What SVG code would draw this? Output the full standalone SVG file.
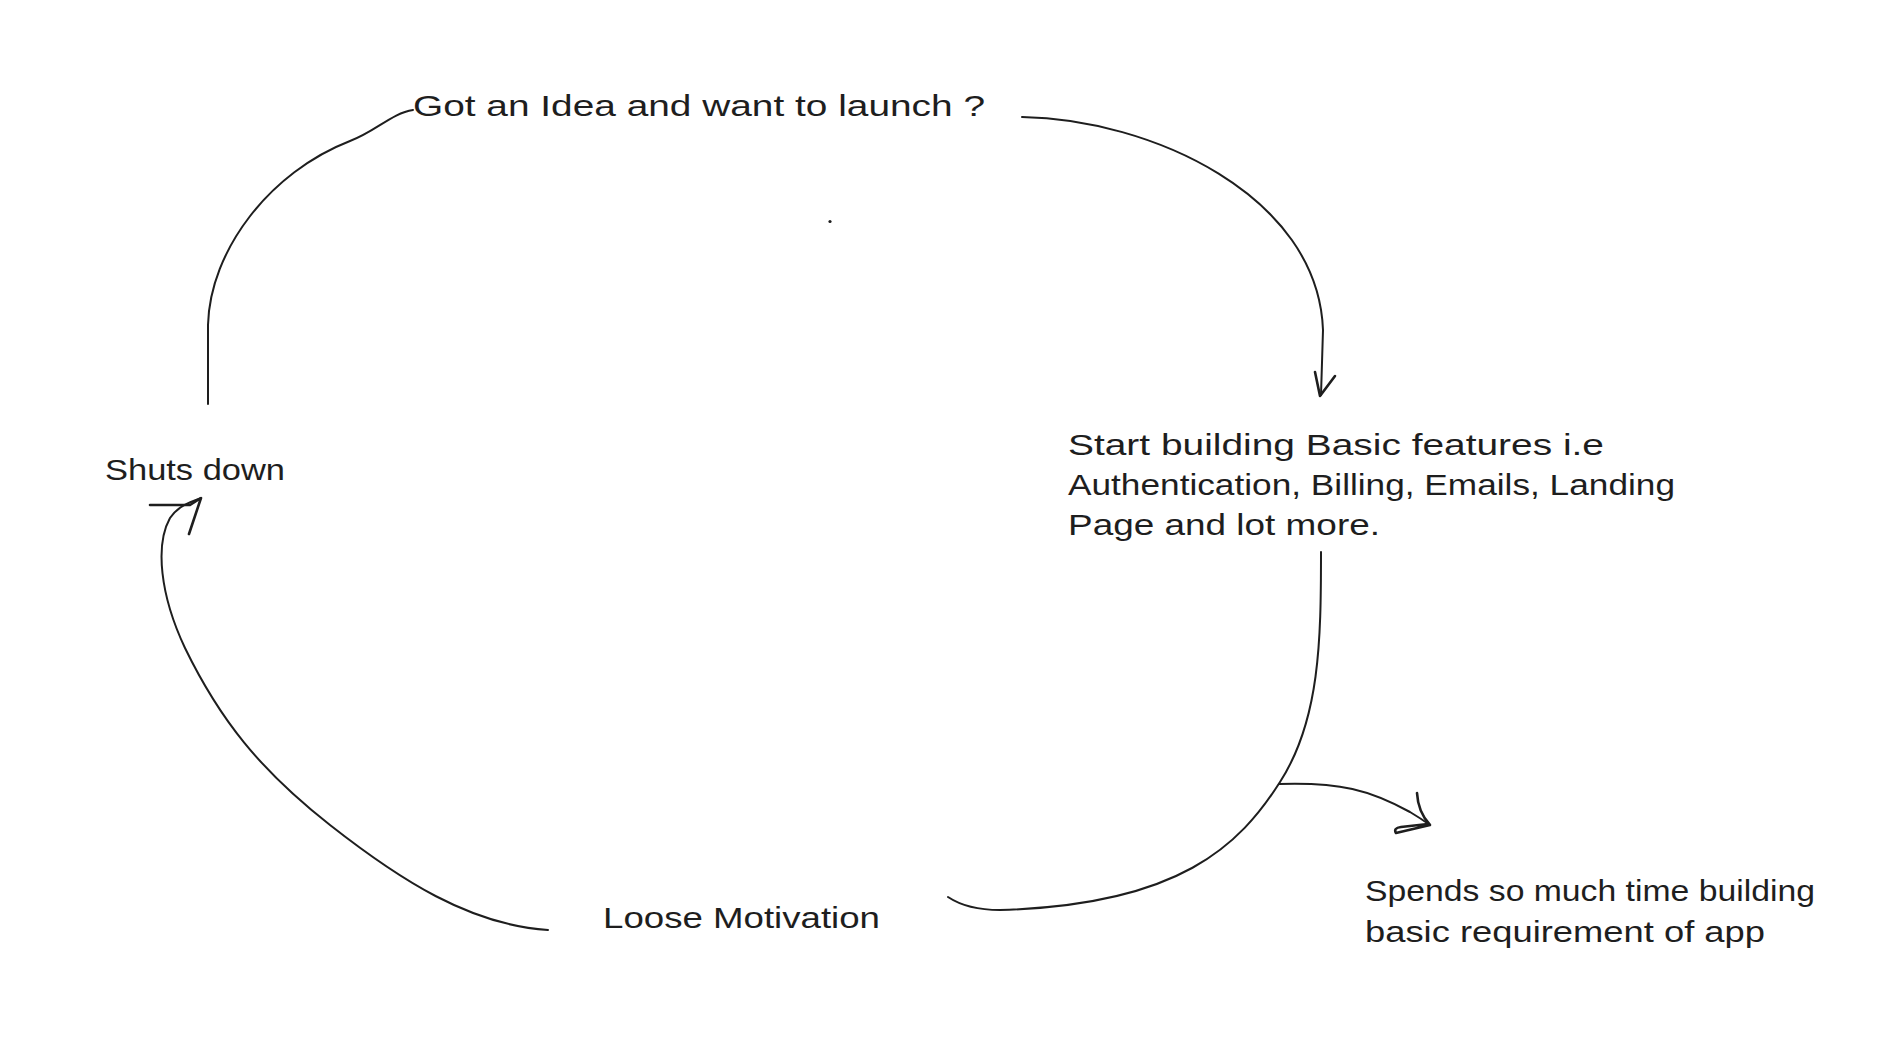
<svg xmlns="http://www.w3.org/2000/svg" width="1898" height="1052" viewBox="0 0 1898 1052">
<style>
.t{font-family:"Liberation Sans","DejaVu Sans",sans-serif;font-size:30px;fill:#1e1e1e}
.c{fill:none;stroke:#1e1e1e;stroke-width:2;stroke-linecap:round;stroke-linejoin:round}
.h{fill:none;stroke:#1e1e1e;stroke-width:2.6;stroke-linecap:round;stroke-linejoin:round}
</style>
<rect width="1898" height="1052" fill="#ffffff"/>
<g id="connectors">
<path class="c" d="M208,404 L208,325 C210,250 270,172 350,141 C375,132 392,113 413,110"/>
<path class="c" d="M1022,117 C1150,119 1318,195 1323,330 L1321,395"/>
<path class="h" d="M1315,372 L1320,396 L1335,376"/>
<path class="c" d="M1321,552 C1321,640 1320,720 1280,782 C1240,845 1180,905 1000,910 C975,910 960,905 948,897"/>
<path class="c" d="M1279,784 C1340,782 1370,790 1410,812 Q1420,818 1430,825"/>
<path class="h" d="M1417,793 Q1418,812 1430,825 L1396,833 Q1393,828 1401,827 L1428,824"/>
<path class="c" d="M548,930 C470,925 400,880 330,825 C260,770 220,720 185,648 C160,595 155,545 170,518 C178,506 190,502 201,498"/>
<path class="h" d="M150,505 L190,505 L201,498 L189,534"/>
</g>
<g id="dot"><circle cx="830" cy="221.5" r="1.6" fill="#1e1e1e"/></g>
<g id="node-idea"><text class="t" x="413" y="116" textLength="572" lengthAdjust="spacingAndGlyphs">Got an Idea and want to launch ?</text></g>
<g id="node-build">
<text class="t" x="1068" y="455" textLength="536" lengthAdjust="spacingAndGlyphs">Start building Basic features i.e</text>
<text class="t" x="1068" y="495" textLength="607" lengthAdjust="spacingAndGlyphs">Authentication, Billing, Emails, Landing</text>
<text class="t" x="1068" y="535" textLength="312" lengthAdjust="spacingAndGlyphs">Page and lot more.</text>
</g>
<g id="node-shuts"><text class="t" x="105" y="480" textLength="180" lengthAdjust="spacingAndGlyphs">Shuts down</text></g>
<g id="node-loose"><text class="t" x="603" y="928" textLength="277" lengthAdjust="spacingAndGlyphs">Loose Motivation</text></g>
<g id="node-spends">
<text class="t" x="1365" y="901" textLength="450" lengthAdjust="spacingAndGlyphs">Spends so much time building</text>
<text class="t" x="1365" y="942" textLength="400" lengthAdjust="spacingAndGlyphs">basic requirement of app</text>
</g>
</svg>
